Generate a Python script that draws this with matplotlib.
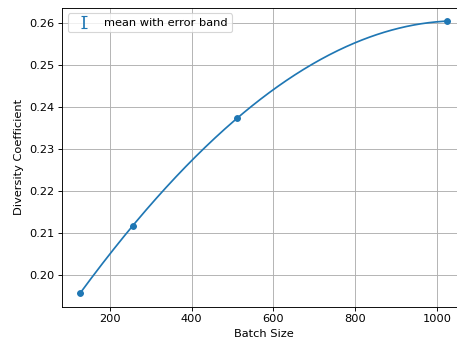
import numpy as np
import matplotlib
matplotlib.use("Agg")
import matplotlib.pyplot as plt

batch_sizes = [128, 256, 512, 1024]
div_coeff = [0.1957, 0.2117, 0.2374, 0.2605]
div_err = [0.0, 0.0, 0.0, 0.0]

x = np.array(batch_sizes, dtype=float)
y = np.array(div_coeff)

# smooth curve through the measured points
coef = np.polyfit(x, y, 3)
xs = np.linspace(x.min(), x.max(), 300)
ys = np.polyval(coef, xs)

DPI = 82
fig = plt.figure(figsize=(458 / DPI, 343 / DPI))
ax = fig.add_axes([0.1354, 0.1064, 0.88, 0.8716])

ax.plot(xs, ys, color="C0", lw=1.5)
ax.plot(x, y, "o", color="C0", ms=5)
ax.errorbar(x, y, yerr=div_err, fmt="none", ecolor="C0", capsize=3,
            label="mean with error band")

pad = 0.05 * (x.max() - x.min())
ax.set_xlim(x.min() - pad, x.max() + pad)
ax.set_xlabel("Batch Size")
ax.set_ylabel("Diversity Coefficient")
ax.grid(True)
ax.legend(loc="upper left")

fig.savefig("out.png", dpi=DPI)
